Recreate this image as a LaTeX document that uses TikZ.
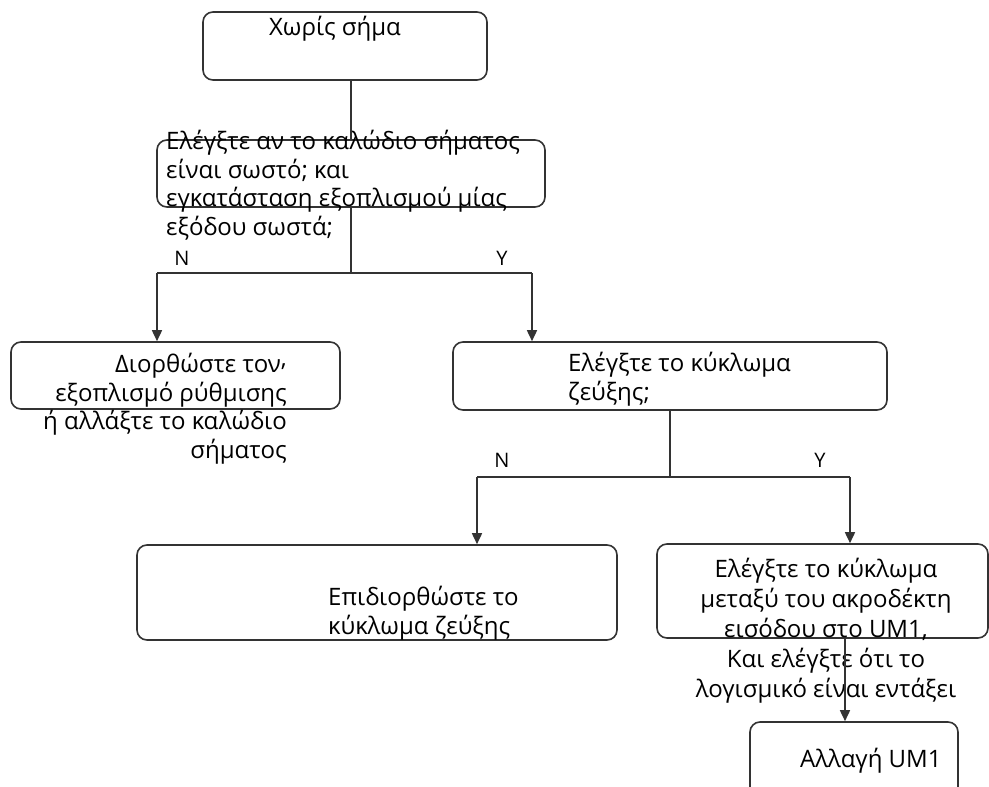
\documentclass[tikz,border=0pt]{standalone}
\usepackage{fontspec}
\setmainfont{Open Sans}
\usetikzlibrary{arrows.meta}

\begin{document}
\begin{tikzpicture}[x=1pt,y=-1pt,
  box/.style={draw=black!80, line width=1.6pt, rounded corners=10pt, inner sep=0pt},
  txt/.style={inner sep=0pt, font=\fontsize{24}{28.5}\selectfont},
  yn/.style={inner sep=0pt, font=\fontsize{20}{22}\selectfont},
  link/.style={draw=black!80, line width=1.6pt},
  arr/.style={link, -{Triangle[width=10pt,length=11pt]}}]
  \useasboundingbox (0,0) rectangle (989,787);
  % boxes
  \node[box, minimum width=284pt, minimum height=68pt] (nosig) at (345,46) {};
  \node[box, minimum width=388pt, minimum height=67pt] (cable) at (351,173.5) {};
  \node[box, minimum width=329pt, minimum height=67pt] (fix) at (175.5,375.5) {};
  \node[box, minimum width=434pt, minimum height=68pt] (couple) at (670,376) {};
  \node[box, minimum width=480pt, minimum height=95pt] (repair) at (377,592.5) {};
  \node[box, minimum width=331pt, minimum height=94pt] (um) at (822.5,591) {};
  \node[box, minimum width=208pt, minimum height=80pt] (swap) at (854,762) {};
  % texts (base = last line)
  \node[txt, anchor=base] (nosigT) at (335,35) {Χωρίς σήμα};
  \node[txt, anchor=base west, align=left] (cableT) at (166,235)
    {Ελέγξτε αν το καλώδιο σήματος\\είναι σωστό; και\\εγκατάσταση εξοπλισμού μίας\\εξόδου σωστά;};
  \node[txt, anchor=base east, align=right] (fixT) at (287,458)
    {Διορθώστε τον\raisebox{0.5ex}{,}\\εξοπλισμό ρύθμισης\\ή αλλάξτε το καλώδιο\\σήματος};
  \node[txt, anchor=base west, align=left] (coupleT) at (568,400)
    {Ελέγξτε το κύκλωμα\\ζεύξης;};
  \node[txt, anchor=base west, align=left] (repairT) at (328,634)
    {Επιδιορθώστε το\\κύκλωμα ζεύξης};
  \node[txt, anchor=base, align=center, font=\fontsize{24}{30}\selectfont] (umT) at (826,697)
    {Ελέγξτε το κύκλωμα\\μεταξύ του ακροδέκτη\\εισόδου στο UM1,\\Και ελέγξτε ότι το\\λογισμικό είναι εντάξει};
  \node[txt, anchor=base west] (swapT) at (800,767) {Αλλαγή UM1};
  % branch points
  \coordinate (j1) at (351,273);
  \coordinate (j1n) at (157,273);
  \coordinate (j1y) at (532,273);
  \coordinate (j2) at (670,477);
  \coordinate (j2n) at (477,477);
  \coordinate (j2y) at (850,477);
  \coordinate (umS) at (845,638);
  \node[yn] (n1) at (182,258) {N};
  \node[yn] (y1) at (502,258) {Y};
  \node[yn] (n2) at (502,460) {N};
  \node[yn] (y2) at (820,460) {Y};
  % connectors
  \draw[link] (nosig.south -| j1) -- (cable.north -| j1);
  \draw[link] (cable.south -| j1) -- (j1);
  \draw[link] (j1n) -- (j1y);
  \draw[arr] (j1n) -- (j1n |- fix.north);
  \draw[arr] (j1y) -- (j1y |- couple.north);
  \draw[link] (couple.south -| j2) -- (j2);
  \draw[link] (j2n) -- (j2y);
  \draw[arr] (j2n) -- (j2n |- repair.north);
  \draw[arr] (j2y) -- (j2y |- um.north);
  \draw[arr] (umS) -- (umS |- swap.north);
\end{tikzpicture}
\end{document}
